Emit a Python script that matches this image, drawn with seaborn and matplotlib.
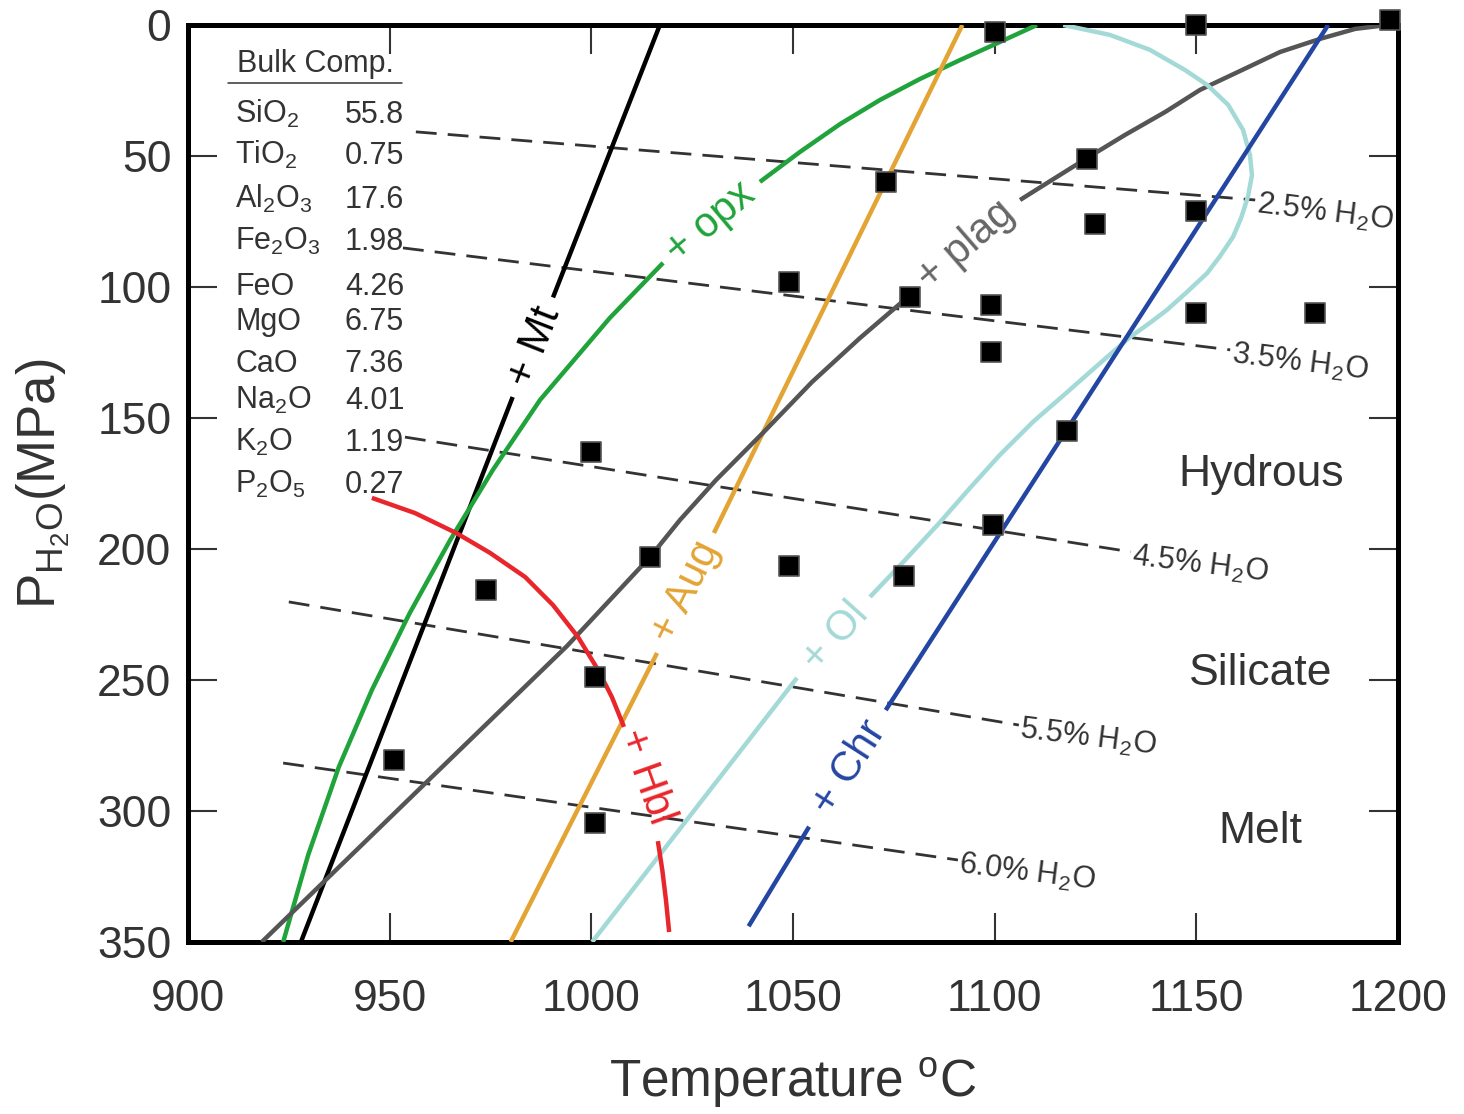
import numpy as np
import pandas as pd
import matplotlib
matplotlib.use("Agg")
import matplotlib.pyplot as plt
import seaborn as sns

# ---- experiment run conditions (T in C, P in MPa) ----
sample_T = [1100, 1150, 1198, 1123, 1073, 1150, 1125, 1049, 1079, 1099, 1150, 1179.5,
            1099, 1118, 1000, 1099.5, 1014.5, 1049, 1077.5, 974, 1001, 951, 1001]
sample_P = [2.5, 0, -2, 51, 60, 71, 76, 98, 104, 107, 110, 110,
            125, 155, 163, 191, 203, 206.5, 210.5, 215.5, 249, 280.5, 304.5]

# ---- phase-in curves, split where the label sits ----
mt_T = [[1017, 990.5], [980.5, 928]]
mt_P = [[0, 104], [142, 350]]

opx_T = [[923.6, 929.8, 937.4, 945.6, 955.0, 965.0, 975.6, 987.3, 1004.6, 1017.8],
         [1041.8, 1051.7, 1061.7, 1071.6, 1081.5, 1091.4, 1101.3, 1110.5]]
opx_P = [[350, 316.8, 283.2, 253.8, 224.4, 196.6, 169.8, 143.1, 111.8, 90.8],
         [59.9, 48.5, 37.8, 28.6, 20.6, 13.4, 6.5, 0]]

aug_T = [[1092, 1030.4], [1016.3, 980]]
aug_P = [[0, 193.9], [239.7, 350]]

plag_T = [[918.3, 959.8, 994, 1014.6, 1022.0, 1030.9, 1042.8, 1054.7, 1066.6, 1078.5],
          [1106.3, 1115.0, 1122.9, 1132.3, 1142.3, 1150.9, 1160.8, 1170.8, 1180.7,
           1189.4, 1197.5]]
plag_P = [[350, 288, 237, 203, 188.9, 173.7, 155.3, 136.3, 119.5, 103.8],
          [66.8, 58.4, 50.8, 42.0, 33.2, 24.8, 17.6, 10.3, 5.3, 1.5, 0]]

ol_T = [[1000.2, 1051],
        [1069.1, 1077.8, 1086.5, 1093.9, 1101.3, 1109.5, 1117.5, 1125.6, 1133.6, 1138.5,
         1142.7, 1147.7, 1152.7, 1155.9, 1159.1, 1161.1, 1162.8, 1163.8, 1163.3, 1161.6,
         1157.9, 1152.7, 1147.2, 1138.5, 1128.6, 1117.0]]
ol_P = [[350, 249.2],
        [218.3, 204.2, 189.7, 176.7, 164.1, 151.5, 140.8, 129.8, 119.1, 113.7,
         108.8, 101.9, 94.7, 88.2, 80.9, 73.7, 65.6, 57.3, 49.6, 40.1,
         30.5, 22.9, 17.2, 9.5, 3.8, 0]]

chr_T = [[1182.7, 1073], [1054, 1039]]
chr_P = [[0, 261.5], [306, 344]]

hbl_T = [[945.6, 956.3, 966.5, 974.9, 983.6, 990.5, 996.7, 1001.7, 1005.1, 1008.1],
         [1016.5, 1017.6, 1018.5, 1019.3]]
hbl_P = [[180.5, 186.3, 193.9, 201.5, 210.7, 221.4, 233.6, 246.2, 256.5, 267.9],
         [311.5, 322.5, 333.9, 346.2]]

# ---- H2O isopleths ----
h2o_pct = ["2.5", "3.5", "4.5", "5.5", "6.0"]
iso_T0 = [956.5, 953.3, 953.8, 925.0, 923.6]
iso_P0 = [40.8, 85.1, 157.3, 220.2, 281.7]
iso_T1 = [1164.6, 1158.4, 1133.8, 1106.0, 1090.9]
iso_P1 = [66.8, 124.0, 201.1, 267.2, 318.7]

# ---- bulk composition ----
oxides = ["SiO$_2$", "TiO$_2$", "Al$_2$O$_3$", "Fe$_2$O$_3$", "FeO", "MgO",
          "CaO", "Na$_2$O", "K$_2$O", "P$_2$O$_5$"]
wt_pct = ["55.8", "0.75", "17.6", "1.98", "4.26", "6.75", "7.36", "4.01", "1.19", "0.27"]

sns.set_style("ticks")
plt.rcParams["font.family"] = ["Liberation Sans", "DejaVu Sans"]
plt.rcParams["mathtext.fontset"] = "custom"
plt.rcParams["mathtext.rm"] = "Liberation Sans"
plt.rcParams["mathtext.it"] = "Liberation Sans:italic"
plt.rcParams["mathtext.bf"] = "Liberation Sans:bold"

TXT = "#333333"

fig = plt.figure(figsize=(14.64, 11.14), dpi=100)
ax = fig.add_axes([0.1284, 0.1544, 0.8265, 0.8232])


def curve_frame(T_parts, P_parts):
    rows = []
    for k, (ts, ps) in enumerate(zip(T_parts, P_parts)):
        for t, p in zip(ts, ps):
            rows.append((t, p, k))
    return pd.DataFrame(rows, columns=["T", "P", "seg"])


curves = [
    (mt_T, mt_P, "#000000"),
    (opx_T, opx_P, "#1fa33a"),
    (aug_T, aug_P, "#e3a434"),
    (plag_T, plag_P, "#555555"),
    (ol_T, ol_P, "#a3d9d6"),
    (chr_T, chr_P, "#2446a3"),
    (hbl_T, hbl_P, "#e8262b"),
]
for ts, ps, col in curves:
    sns.lineplot(data=curve_frame(ts, ps), x="T", y="P", units="seg", estimator=None,
                 sort=False, color=col, lw=3.2, ax=ax, legend=False, zorder=3,
                 solid_capstyle="butt")

# isopleths
iso = pd.DataFrame({
    "T": iso_T0 + iso_T1,
    "P": iso_P0 + iso_P1,
    "pct": h2o_pct + h2o_pct,
})
sns.lineplot(data=iso, x="T", y="P", units="pct", estimator=None, sort=False,
             color=TXT, lw=2.0, linestyle=(0, (7.5, 4)), ax=ax, legend=False, zorder=2)
for pct, t, p in zip(h2o_pct, iso_T1, iso_P1):
    ax.text(t + 0.3, p + 1.8, pct + "% H$_2$O", fontsize=22, color=TXT,
            rotation=-7, rotation_mode="anchor", ha="left", va="center", zorder=4)

# run conditions
sns.scatterplot(x=sample_T, y=sample_P, marker="s", s=210, color="black",
                edgecolor="#555555", linewidth=1.2, ax=ax, zorder=6, legend=False)
for coll in ax.collections:
    coll.set_clip_on(False)

# curve labels
lbl = dict(fontsize=30, ha="center", va="center", rotation_mode="anchor", zorder=5)
ax.text(986, 123, "+ Mt", color="#000000", rotation=68.6, **lbl)
ax.text(1029.5, 75.5, "+ opx", color="#1fa33a", rotation=40, **lbl)
ax.text(1023.5, 216.5, "+ Aug", color="#e3a434", rotation=63.8, **lbl)
ax.text(1093, 84, "+ plag", color="#666666", rotation=41, **lbl)
ax.text(1060.5, 233.5, "+ Ol", color="#a3d9d6", rotation=48, **lbl)
ax.text(1064, 283.5, "+ Chr", color="#2446a3", rotation=57.3, **lbl)
ax.text(1013.6, 287, "+ Hbl", color="#e8262b", rotation=-70.4, **lbl)

# field labels
for name, p in zip(["Hydrous", "Silicate", "Melt"], [171.5, 247.5, 308]):
    ax.text(1166, p, name, fontsize=32, color=TXT, ha="center", va="center")

# bulk composition table
ax.text(912.1, 17.9, "Bulk Comp.", fontsize=22, color=TXT, ha="left", va="baseline")
ax.plot([909.9, 953.1], [22.1, 22.1], color=TXT, lw=1.1)
row_P = [37.4, 53.1, 69.8, 85.9, 103.1, 116.4, 132.4, 146.6, 162.6, 178.6]
for ox, v, p in zip(oxides, wt_pct, row_P):
    ax.text(911.7, p, ox, fontsize=22, color=TXT, ha="left", va="baseline")
    ax.text(938.9, p, v, fontsize=22, color=TXT, ha="left", va="baseline")

ax.set_xlim(900, 1200)
ax.set_ylim(350, 0)
ax.set_xticks(np.arange(900, 1201, 50))
ax.set_yticks(np.arange(0, 351, 50))
ax.tick_params(direction="in", length=21, width=1.5, color=TXT, labelcolor=TXT,
               labelsize=32, top=True, right=True)
ax.tick_params(axis="x", pad=27)
ax.tick_params(axis="y", pad=12)
for sp in ax.spines.values():
    sp.set_linewidth(3.6)
    sp.set_color("black")
    sp.set_visible(True)

ax.set_xlabel("Temperature $^{\\mathrm{o}}$C", fontsize=37, color=TXT, labelpad=25)
ax.set_ylabel("P$_{\\mathrm{H_2O}}$(MPa)", fontsize=38, color=TXT, labelpad=18)

fig.savefig("out.png", dpi=100)
